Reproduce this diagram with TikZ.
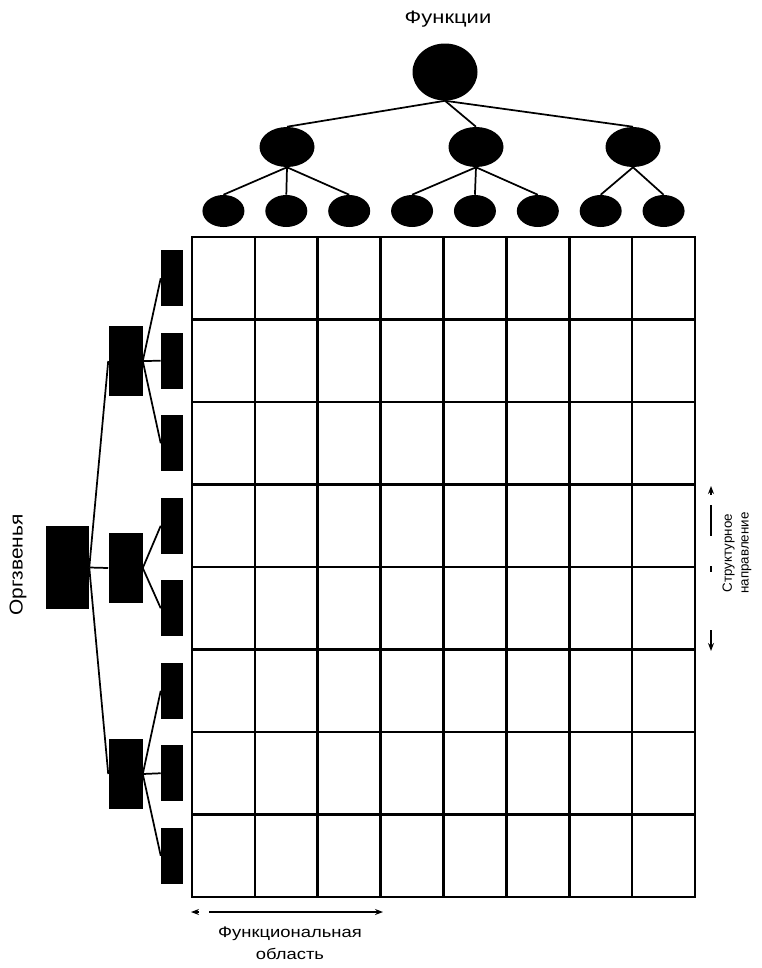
\documentclass[tikz,border=0pt]{standalone}
\usepackage{fontspec}
\setmainfont{Liberation Sans}
\usetikzlibrary{arrows.meta,shapes.geometric}
\begin{document}
\begin{tikzpicture}[x=0.75pt,y=-0.75pt,
  gridline/.style={line width=1.9pt},
  conn/.style={line width=1.3pt},
  fone/.style={ellipse,fill=black,inner sep=0pt},
  froot/.style={fone,minimum width=48.75pt,minimum height=42.75pt},
  fmid/.style={fone,minimum width=41.25pt,minimum height=30pt},
  fleaf/.style={fone,minimum width=31.5pt,minimum height=24pt},
  obox/.style={rectangle,fill=black,inner sep=0pt},
  oroot/.style={obox,minimum width=32.25pt,minimum height=62.25pt},
  omid/.style={obox,minimum width=25.5pt,minimum height=52.5pt},
  oleaf/.style={obox,minimum width=16.5pt,minimum height=42pt},
  lbl/.style={inner sep=0pt,align=center},
  arr/.style={line width=0.9pt,-{Stealth[length=6pt,width=4.5pt]}}]
\useasboundingbox (0,0) rectangle (762,968);

% grid
\foreach \i in {1,...,7} {
  \draw[gridline] ({192+62.875*\i},237) -- ({192+62.875*\i},897);
  \draw[gridline] (192,{237+82.5*\i}) -- (695,{237+82.5*\i});
}
\draw[gridline] (192,237) rectangle (695,897);

% function tree
\node[lbl,font=\fontsize{13.5pt}{15pt}\selectfont] (tf) at (448,19) {\scalebox{1.22}[1]{Функции}};
\node[froot] (r) at (445,72) {};
\node[fmid] (m1) at (287,147) {};
\node[fmid] (m2) at (476,147) {};
\node[fmid] (m3) at (633,147) {};
\foreach \i in {1,...,8} {
  \node[fleaf] (l\i) at ({192+62.875*(\i-0.5)},211) {};
}
\foreach \m in {m1,m2,m3} \draw[conn] (r.south) -- (\m.north);
\foreach \l in {l1,l2,l3} \draw[conn] (m1.south) -- (\l.north);
\foreach \l in {l4,l5,l6} \draw[conn] (m2.south) -- (\l.north);
\foreach \l in {l7,l8} \draw[conn] (m3.south) -- (\l.north);

% org tree
\node[oroot] (R) at (67.5,567.5) {};
\node[omid] (M1) at (125.5,361) {};
\node[omid] (M2) at (125.5,568) {};
\node[omid] (M3) at (125.5,774) {};
\foreach \i in {1,...,8} {
  \node[oleaf] (L\i) at (172,{237+82.5*(\i-0.5)}) {};
}
\foreach \m in {M1,M2,M3} \draw[conn] (R.east) -- (\m.west);
\foreach \l in {L1,L2,L3} \draw[conn] (M1.east) -- (\l.west);
\foreach \l in {L4,L5} \draw[conn] (M2.east) -- (\l.west);
\foreach \l in {L6,L7,L8} \draw[conn] (M3.east) -- (\l.west);
\node[lbl,rotate=90,font=\fontsize{14pt}{15pt}\selectfont] (to) at (18,565) {\scalebox{1.12}[1]{Оргзвенья}};

% structural direction
\coordinate (sa1) at (711,495);
\coordinate (sa2) at (711,486);
\coordinate (sb1) at (711,505);
\coordinate (sb2) at (711,536);
\coordinate (sc1) at (711,566);
\coordinate (sc2) at (711,572);
\coordinate (sd1) at (711,630);
\coordinate (sd2) at (711,651);
\draw[arr] (sa1) -- (sa2);
\draw[line width=0.9pt] (sb1) -- (sb2);
\draw[line width=0.9pt] (sc1) -- (sc2);
\draw[arr] (sd1) -- (sd2);
\node[lbl,rotate=90,font=\fontsize{10pt}{11.5pt}\selectfont] (ts) at (737,553) {Структурное\\[1pt]направление};

% functional area
\coordinate (fa1) at (199,912);
\coordinate (fa2) at (191,912);
\coordinate (fb1) at (209,912);
\coordinate (fb2) at (383,912);
\draw[arr] (fa1) -- (fa2);
\draw[arr] (fb1) -- (fb2);
\node[lbl,font=\fontsize{11.5pt}{16.5pt}\selectfont] (tfa) at (290,943) {\scalebox{1.2}[1]{Функциональная}\\\scalebox{1.2}[1]{область}};
\end{tikzpicture}
\end{document}
